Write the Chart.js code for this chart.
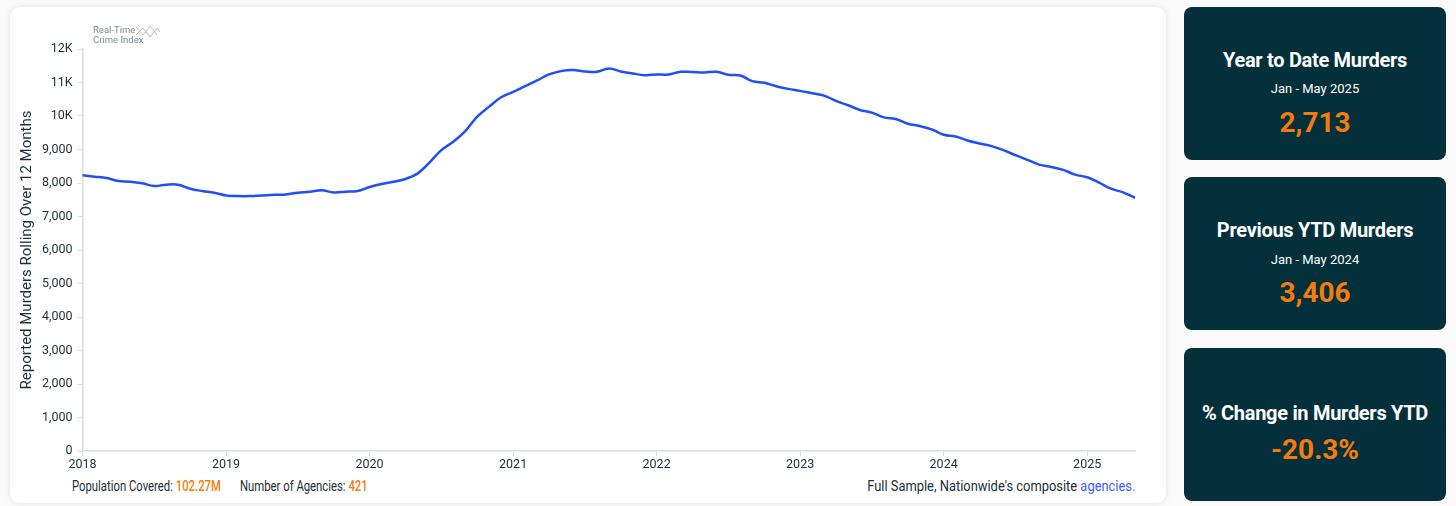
<!DOCTYPE html>
<html>
<head>
<meta charset="utf-8">
<script src="https://cdn.jsdelivr.net/npm/chart.js@4.4.1/dist/chart.umd.min.js"></script>
<style>
  html, body { margin: 0; padding: 0; }
  body { width: 1456px; height: 506px; background: #fafafa; font-family: Roboto, "Open Sans", sans-serif; position: relative; overflow: hidden; }
  .card { position: absolute; left: 10px; top: 7px; width: 1156px; height: 496px; background: #fff; border-radius: 10px; box-shadow: 0 0 6px rgba(0,0,0,0.10); }
  #chartWrap { position: absolute; left: 0; top: 0; width: 1156px; height: 470px; }
  .logo { position: absolute; left: 83px; top: 18px; font-size: 9.5px; line-height: 10px; color: #7d8b90; }
  .logo svg { position: absolute; left: 42px; top: -2px; }
  .foot { position: absolute; top: 471px; font-size: 14.5px; color: #1c2f36; white-space: nowrap; }
  .foot.l { transform: scaleX(0.78); transform-origin: left center; }
  .foot.r { transform: scaleX(0.89); transform-origin: right center; }
  .foot b { color: #f47c0a; font-weight: 500; }
  .foot a { color: #3d5afe; text-decoration: none; }
  .stat { position: absolute; left: 1184px; width: 262px; height: 153px; background: #03303a; border-radius: 8px; color: #fff; text-align: center; }
  .stat .t { position: absolute; left: 0; right: 0; font-size: 20px; font-weight: 700; letter-spacing: -0.3px; }
  .stat .s { position: absolute; left: 0; right: 0; font-size: 13px; }
  .stat .v { position: absolute; left: 0; right: 0; font-size: 28px; font-weight: 700; color: #f57c0c; }
</style>
</head>
<body>
<div class="card">
  <div id="chartWrap"><canvas id="murderChart"></canvas></div>
  <div class="logo">Real-Time<br>Crime Index
    <svg width="26" height="20" viewBox="0 0 26 20">
      <polyline points="1,4 8,12 15,3 22,12" fill="none" stroke="#f6b47a" stroke-width="1"/>
      <polyline points="1,12 8,5 15,14 22,5 25,9" fill="none" stroke="#9fb4f5" stroke-width="1"/>
    </svg>
  </div>
  <div class="foot l" style="left:62px;">Population Covered: <b>102.27M</b></div>
  <div class="foot l" style="left:230px;">Number of Agencies: <b>421</b></div>
  <div class="foot r" style="right:31px;">Full Sample, Nationwide's composite <a>agencies.</a></div>
</div>

<div class="stat" style="top:7px;">
  <div class="t" style="top:41px;">Year to Date Murders</div>
  <div class="s" style="top:74px;">Jan - May 2025</div>
  <div class="v" style="top:99px;">2,713</div>
</div>
<div class="stat" style="top:177px;">
  <div class="t" style="top:41px;">Previous YTD Murders</div>
  <div class="s" style="top:75px;">Jan - May 2024</div>
  <div class="v" style="top:99px;">3,406</div>
</div>
<div class="stat" style="top:348px;">
  <div class="t" style="top:53px;">% Change in Murders YTD</div>
  <div class="v" style="top:85px;">-20.3%</div>
</div>

<script>
// monthly, Jan 2018 .. May 2025
const years = [2018, 2019, 2020, 2021, 2022, 2023, 2024, 2025];
const monthNames = ['Jan','Feb','Mar','Apr','May','Jun','Jul','Aug','Sep','Oct','Nov','Dec'];
const lastMonth = 4; // May 2025

const murders = [
  8230, 8190, 8150, 8060, 8040, 7990, 7910, 7950, 7950, 7830, 7760, 7710, // 2018
  7630, 7610, 7610, 7630, 7650, 7660, 7710, 7740, 7780, 7720, 7740, 7760, // 2019
  7880, 7970, 8040, 8120, 8280, 8610, 8980, 9230, 9550, 9980, 10280, 10560, // 2020
  10720, 10890, 11060, 11240, 11340, 11370, 11330, 11320, 11420, 11330, 11270, 11220, // 2021
  11240, 11240, 11320, 11310, 11300, 11320, 11230, 11210, 11040, 10990, 10890, 10810, // 2022
  10750, 10680, 10610, 10450, 10320, 10180, 10100, 9960, 9910, 9770, 9700, 9600, // 2023
  9440, 9390, 9270, 9180, 9100, 8980, 8830, 8690, 8550, 8480, 8390, 8250, // 2024
  8170, 8010, 7830, 7720, 7560 // 2025
];

const labels = [];
years.forEach(y => {
  monthNames.forEach((m, i) => {
    if (y === 2025 && i > lastMonth) return;
    labels.push(m + ' ' + y);
  });
});

const axisColor = '#dcdcdc';
const textColor = '#1c2f36';

new Chart(document.getElementById('murderChart'), {
  type: 'line',
  data: {
    labels: labels,
    datasets: [{
      data: murders,
      borderColor: '#1f4ff5',
      borderWidth: 2.5,
      pointRadius: 0,
      tension: 0.4,
      fill: false
    }]
  },
  options: {
    responsive: true,
    maintainAspectRatio: false,
    animation: false,
    layout: { padding: { top: 42, right: 31, left: 8, bottom: 4 } },
    plugins: { legend: { display: false }, tooltip: { enabled: false } },
    scales: {
      x: {
        type: 'category',
        offset: false,
        grid: { drawOnChartArea: false, color: axisColor, tickLength: 5 },
        border: { color: axisColor, width: 1.5 },
        ticks: {
          autoSkip: false,
          maxRotation: 0,
          color: textColor,
          font: { family: 'Roboto', size: 12.5 },
          padding: 1,
          callback: function(val, idx) {
            const lab = labels[idx];
            return lab.startsWith('Jan') ? lab.slice(4) : null;
          }
        }
      },
      y: {
        min: 0,
        max: 12000,
        grid: { drawOnChartArea: false, color: axisColor, tickLength: 5 },
        border: { color: axisColor, width: 1.5 },
        ticks: {
          stepSize: 1000,
          color: textColor,
          padding: 5,
          font: { family: 'Roboto', size: 12.5 },
          callback: v => v >= 10000 ? (v / 1000) + 'K' : v.toLocaleString('en-US')
        },
        title: {
          display: true,
          text: 'Reported Murders Rolling Over 12 Months',
          color: textColor,
          font: { family: 'Roboto', size: 15 },
          padding: { top: 0, bottom: 1 }
        }
      }
    }
  }
});
</script>
</body>
</html>
